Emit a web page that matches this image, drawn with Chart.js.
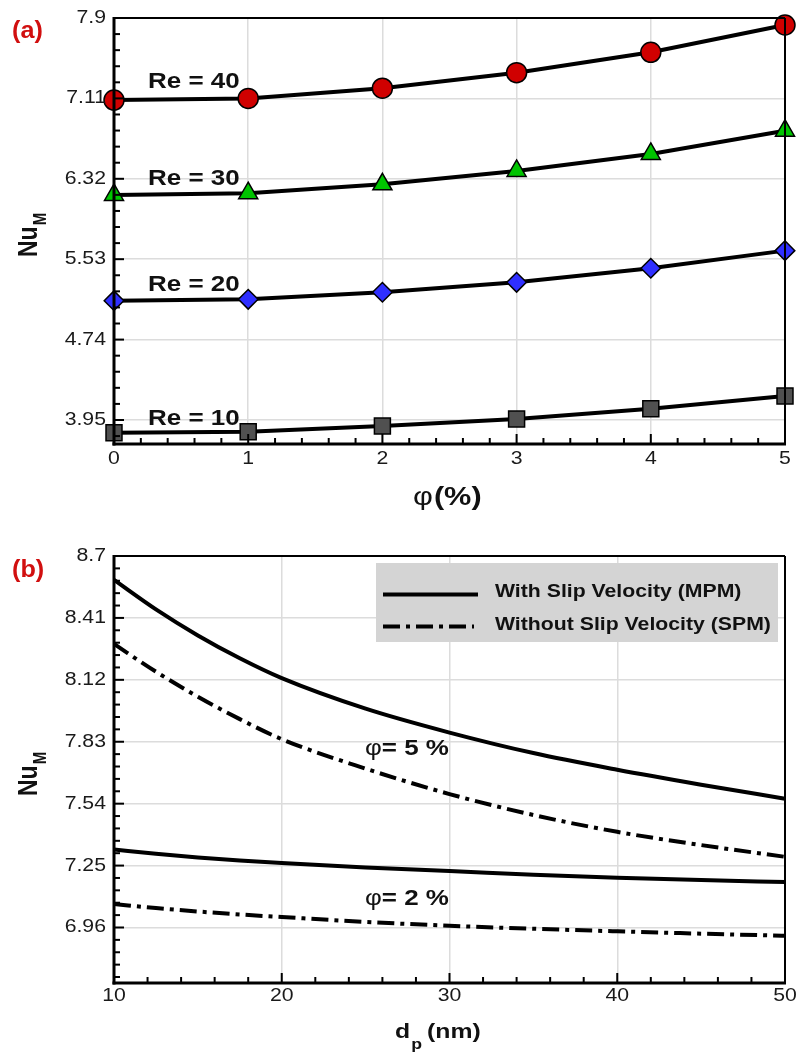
<!DOCTYPE html>
<html><head><meta charset="utf-8">
<script src="https://cdn.jsdelivr.net/npm/chart.js@4.4.1/dist/chart.umd.min.js"></script>
<style>
html,body{margin:0;padding:0;background:#fff;}
#wrap{position:relative;width:797px;height:1062px;background:#fff;}
canvas{position:absolute;left:0;top:0;}
</style></head><body>
<div id="wrap"><canvas id="ca" width="797" height="1062"></canvas><canvas id="cb" width="797" height="1062"></canvas></div>
<script>
// ===== Panel (a) data =====
const phiPercent = [0, 1, 2, 3, 4, 5];
const nuRe10 = [3.825, 3.835, 3.891, 3.960, 4.061, 4.186];
const nuRe20 = [5.122, 5.136, 5.205, 5.303, 5.441, 5.614];
const nuRe30 = [6.161, 6.178, 6.266, 6.397, 6.564, 6.793];
const nuRe40 = [7.094, 7.110, 7.210, 7.363, 7.563, 7.831];
const reLabels = ['Re = 10', 'Re = 20', 'Re = 30', 'Re = 40'];
const yTickLabelsA = ['3.95', '4.74', '5.53', '6.32', '7.11', '7.9'];
const xTickLabelsA = ['0', '1', '2', '3', '4', '5'];

// ===== Panel (b) data =====
const dpNm = [10, 12.5, 15, 17.5, 20, 25, 30, 35, 40, 45, 50];
const nuSlip5   = [8.588, 8.450, 8.328, 8.221, 8.128, 7.985, 7.873, 7.777, 7.699, 7.629, 7.563];
const nuNoSlip5 = [8.288, 8.158, 8.041, 7.936, 7.842, 7.704, 7.585, 7.487, 7.408, 7.346, 7.291];
const nuSlip2   = [7.325, 7.305, 7.288, 7.274, 7.262, 7.241, 7.225, 7.207, 7.193, 7.182, 7.173];
const nuNoSlip2 = [7.070, 7.051, 7.035, 7.021, 7.009, 6.986, 6.968, 6.954, 6.942, 6.931, 6.921];
const yTickLabelsB = ['6.96', '7.25', '7.54', '7.83', '8.12', '8.41', '8.7'];
const xTickLabelsB = ['10', '20', '30', '40', '50'];
const legendLabelsB = ['With Slip Velocity (MPM)', 'Without Slip Velocity (SPM)'];
const phiLabelsB = ['2 %', '5 %'];

// ===== helpers =====
const SX = 1.18;
const FONT = '"Liberation Sans", Arial, Helvetica, sans-serif';
function txt(ctx, s, x, y, size, bold, opts = {}) {
  const sx = opts.sx ?? SX;
  ctx.save();
  ctx.translate(x, y);
  ctx.scale(sx, 1);
  ctx.font = (bold ? 'bold ' : '') + size + 'px ' + FONT;
  ctx.fillStyle = opts.color || '#111';
  ctx.textAlign = opts.align || 'left';
  ctx.textBaseline = opts.baseline || 'alphabetic';
  ctx.fillText(s, 0, 0);
  const w = ctx.measureText(s).width * sx;
  ctx.restore();
  return w;
}
function vTitle(ctx, main, sub, x, yBottom) {
  ctx.save();
  ctx.translate(x, yBottom);
  ctx.scale(SX, 1);
  ctx.rotate(-Math.PI / 2);
  ctx.fillStyle = '#111';
  ctx.textBaseline = 'alphabetic';
  ctx.font = 'bold 23px ' + FONT;
  ctx.fillText(main, 0, 0);
  const w = ctx.measureText(main).width;
  ctx.font = 'bold 15px ' + FONT;
  ctx.fillText(sub, w + 1, 8);
  ctx.restore();
}
function seg(ctx, x1, y1, x2, y2) { ctx.beginPath(); ctx.moveTo(x1, y1); ctx.lineTo(x2, y2); ctx.stroke(); }

function drawFrameTicks(chart, xStep, yStep, nMinor) {
  const { ctx, chartArea: a, scales: { x, y } } = chart;
  ctx.save();
  ctx.strokeStyle = '#000';
  ctx.lineCap = 'butt';
  ctx.lineWidth = 2;
  const xs = xStep / nMinor;
  for (let k = 0; ; k++) {
    const v = x.min + k * xs;
    if (v > x.max + 1e-9) break;
    const px = x.getPixelForValue(v);
    seg(ctx, px, a.bottom, px, a.bottom - (k % nMinor === 0 ? 10 : 6));
  }
  const ys = yStep / nMinor;
  for (let k = 0; ; k++) {
    const v = y.max - k * ys;
    if (v < y.min - 1e-9) break;
    const py = y.getPixelForValue(v);
    seg(ctx, a.left, py, a.left + (k % nMinor === 0 ? 10 : 6), py);
  }
  ctx.lineWidth = 2;
  seg(ctx, a.left, a.top, a.right, a.top);
  seg(ctx, a.right, a.top, a.right, a.bottom);
  ctx.lineWidth = 3;
  seg(ctx, a.left, a.top - 1, a.left, a.bottom + 1.5);
  seg(ctx, a.left - 1.5, a.bottom, a.right + 1, a.bottom);
  ctx.restore();
}
function drawTickLabels(chart, xLabels, yLabels, xLabelY) {
  const { ctx, chartArea: a, scales: { x, y } } = chart;
  yLabels.forEach(t => {
    txt(ctx, t, a.left - 8, y.getPixelForValue(parseFloat(t)), 18, false, { align: 'right', baseline: 'middle', color: '#1a1a1a' });
  });
  xLabels.forEach(t => {
    txt(ctx, t, x.getPixelForValue(parseFloat(t)), xLabelY, 18, false, { align: 'center', baseline: 'middle', color: '#1a1a1a' });
  });
}

const gridOpts = { color: '#dcdcdc', lineWidth: 1.5, drawTicks: false };

// ===== Chart (a) =====
const markerStyle = (shape, color, r) => ({
  pointStyle: shape, pointRadius: r, pointHoverRadius: r,
  pointBackgroundColor: color, pointBorderColor: '#000', pointBorderWidth: 1.5,
  borderColor: '#000', borderWidth: 4, tension: 0, clip: false, fill: false
});
const toXY = (xs, ys) => xs.map((v, i) => ({ x: v, y: ys[i] }));

const pluginA = {
  id: 'decorA',
  afterDatasetsDraw(chart) { drawFrameTicks(chart, 1, 0.79, 5); },
  afterDraw(chart) {
    const { ctx } = chart;
    drawTickLabels(chart, xTickLabelsA, yTickLabelsA, 459.5);
    const labelBase = [425, 291, 185, 88];
    reLabels.forEach((s, i) => txt(ctx, s, 148, labelBase[i], 22, true));
    txt(ctx, '(a)', 12, 38, 24, true, { color: '#d10f0f', sx: 1.05 });
    let wx = txt(ctx, 'φ', 413, 505, 26, false);
    txt(ctx, '(%)', 413 + wx + 1, 505, 26, true);
    vTitle(ctx, 'Nu', 'M', 37, 257);
  }
};

new Chart(document.getElementById('ca'), {
  type: 'line',
  data: {
    datasets: [
      Object.assign({ label: reLabels[0], data: toXY(phiPercent, nuRe10) }, markerStyle('rect', '#505050', 11.3)),
      Object.assign({ label: reLabels[1], data: toXY(phiPercent, nuRe20) }, markerStyle('rectRot', '#2f2fff', 9.8)),
      Object.assign({ label: reLabels[2], data: toXY(phiPercent, nuRe30) }, markerStyle('triangle', '#00c400', 11)),
      Object.assign({ label: reLabels[3], data: toXY(phiPercent, nuRe40) }, markerStyle('circle', '#d00000', 10))
    ]
  },
  options: {
    responsive: false, animation: false,
    layout: { padding: { left: 0, right: 12, top: 18, bottom: 0 }, autoPadding: false },
    plugins: { legend: { display: false }, tooltip: { enabled: false } },
    scales: {
      x: {
        type: 'linear', min: 0, max: 5,
        afterBuildTicks: s => { s.ticks = xTickLabelsA.map(t => ({ value: parseFloat(t) })); },
        afterFit: s => { s.height = 618; },
        ticks: { display: false }, grid: gridOpts, border: { display: false }
      },
      y: {
        type: 'linear', min: 3.714, max: 7.9,
        afterBuildTicks: s => { s.ticks = yTickLabelsA.map(t => ({ value: parseFloat(t) })); },
        afterFit: s => { s.width = 114; },
        ticks: { display: false }, grid: gridOpts, border: { display: false }
      }
    }
  },
  plugins: [pluginA]
});

// ===== Chart (b) =====
const DASHDOT = [17, 6, 4, 6];
const lineStyle = (dashed) => ({
  borderColor: '#000', borderWidth: 4, borderDash: dashed ? DASHDOT : [],
  borderCapStyle: 'butt', pointRadius: 0, pointHoverRadius: 0,
  cubicInterpolationMode: 'monotone', fill: false, clip: false
});

const pluginB = {
  id: 'decorB',
  afterDatasetsDraw(chart) {
    const { ctx } = chart;
    ctx.save();
    ctx.fillStyle = '#d4d4d4';
    ctx.fillRect(376, 563, 402, 79);
    const ds = chart.data.datasets;
    [0, 1].forEach((i, k) => {
      const yy = [594.5, 626.5][k];
      ctx.strokeStyle = ds[i].borderColor;
      ctx.lineWidth = ds[i].borderWidth;
      ctx.setLineDash(ds[i].borderDash);
      ctx.lineCap = 'butt';
      seg(ctx, 383, yy, k === 0 ? 478 : 474, yy);
    });
    ctx.setLineDash([]);
    ctx.restore();
    drawFrameTicks(chart, 10, 0.29, 5);
  },
  afterDraw(chart) {
    const { ctx } = chart;
    drawTickLabels(chart, xTickLabelsB, yTickLabelsB, 996.5);
    txt(ctx, legendLabelsB[0], 495, 597, 18, true);
    txt(ctx, legendLabelsB[1], 495, 630, 18, true);
    let w = txt(ctx, 'φ', 365, 755, 22, false);
    txt(ctx, '= ' + phiLabelsB[1], 365 + w, 755, 22, true);
    w = txt(ctx, 'φ', 365, 905, 22, false);
    txt(ctx, '= ' + phiLabelsB[0], 365 + w, 905, 22, true);
    txt(ctx, '(b)', 12, 577, 24, true, { color: '#d10f0f', sx: 1.05 });
    let wd = txt(ctx, 'd', 395, 1038, 21, true);
    txt(ctx, 'p', 395 + wd + 1, 1049, 15, true);
    txt(ctx, '(nm)', 427, 1038, 21, true);
    vTitle(ctx, 'Nu', 'M', 37, 796);
  }
};

new Chart(document.getElementById('cb'), {
  type: 'line',
  data: {
    datasets: [
      Object.assign({ label: legendLabelsB[0] + ' φ=5%', data: toXY(dpNm, nuSlip5) }, lineStyle(false)),
      Object.assign({ label: legendLabelsB[1] + ' φ=5%', data: toXY(dpNm, nuNoSlip5) }, lineStyle(true)),
      Object.assign({ label: legendLabelsB[0] + ' φ=2%', data: toXY(dpNm, nuSlip2) }, lineStyle(false)),
      Object.assign({ label: legendLabelsB[1] + ' φ=2%', data: toXY(dpNm, nuNoSlip2) }, lineStyle(true))
    ]
  },
  options: {
    responsive: false, animation: false,
    layout: { padding: { left: 0, right: 12, top: 556, bottom: 0 }, autoPadding: false },
    plugins: { legend: { display: false }, tooltip: { enabled: false } },
    scales: {
      x: {
        type: 'linear', min: 10, max: 50,
        afterBuildTicks: s => { s.ticks = xTickLabelsB.map(t => ({ value: parseFloat(t) })); },
        afterFit: s => { s.height = 79; },
        ticks: { display: false }, grid: gridOpts, border: { display: false }
      },
      y: {
        type: 'linear', min: 6.70, max: 8.7,
        afterBuildTicks: s => { s.ticks = yTickLabelsB.map(t => ({ value: parseFloat(t) })); },
        afterFit: s => { s.width = 114; },
        ticks: { display: false }, grid: gridOpts, border: { display: false }
      }
    }
  },
  plugins: [pluginB]
});
</script>
</body></html>
